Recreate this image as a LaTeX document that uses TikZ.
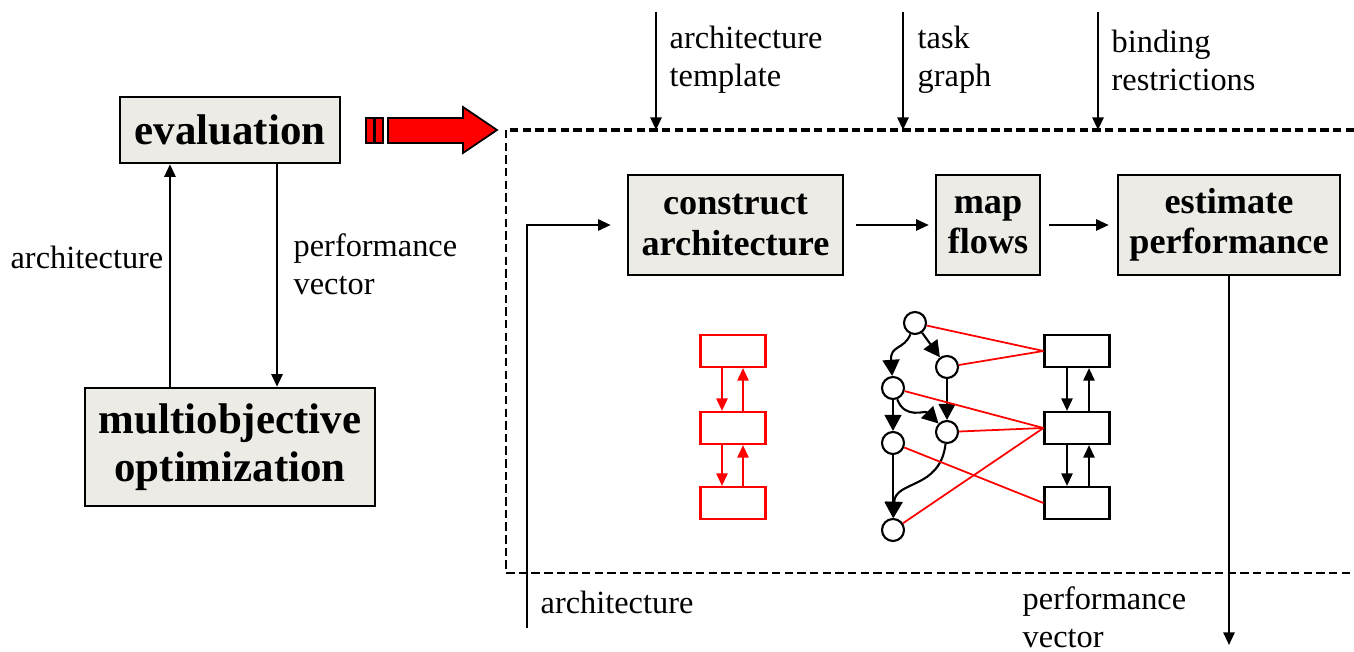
\documentclass[tikz,border=0pt]{standalone}
\usepackage{fontspec}
\setmainfont{Liberation Serif}
\usetikzlibrary{
  arrows.meta,
  positioning,
  calc,
}
\definecolor{boxgray}{HTML}{ECEBE6}
\definecolor{mapred}{HTML}{FF0000}

\begin{document}
\begin{tikzpicture}[
    x=0.01cm, y=-0.01cm,
    bigbox/.style={draw, line width=0.7pt, fill=boxgray, align=center, inner sep=0pt,
                   font=\fontsize{12.2}{13.8}\selectfont\bfseries},
    stepbox/.style={draw, line width=0.7pt, fill=boxgray, align=center, inner sep=0pt,
                    minimum height=1cm, font=\fontsize{10.3}{11.5}\selectfont\bfseries},
    unitbox/.style={draw, line width=0.6pt, minimum width=0.65cm, minimum height=0.32cm, inner sep=0pt},
    task/.style={circle, draw, line width=0.6pt, fill=white, minimum size=0.22cm, inner sep=0pt},
    lbl/.style={align=left, inner sep=0pt, font=\fontsize{9.2}{10.8}\selectfont},
    flow/.style={line width=0.6pt, -{Triangle[width=3.2pt, length=3.6pt]}},
    dep/.style={line width=0.6pt, -{Triangle[width=4.8pt, length=4.6pt]}},
  ]
  \useasboundingbox (0,0) rectangle (1354,652);

  % optimization loop
  \node[bigbox, minimum width=2.2cm, minimum height=0.66cm] (eval) at (230,130) {evaluation};
  \node[bigbox, minimum width=2.9cm, minimum height=1.18cm] (moo) at (230,447)
    {multiobjective\\optimization};
  \draw[flow] ([xshift=-0.6cm]moo.north) -- ([xshift=-0.6cm]eval.south);
  \draw[flow] ([xshift=0.47cm]eval.south) -- ([xshift=0.47cm]moo.north);
  \node[lbl, anchor=east] (larch) at (164,257) {architecture};
  \node[lbl, anchor=west] (lperf) at (293,264) {performance\\vector};

  % zoom arrow
  \draw[fill=mapred, line width=0.5pt] (388,118) -- (463,118) -- (463,107) -- (497,130)
    -- (463,153) -- (463,143) -- (388,143) -- cycle;
  \draw[fill=mapred, line width=0.6pt] (366,118) rectangle (383,143);
  \draw[line width=0.9pt] (374.5,118) -- (374.5,143);

  % evaluation frame
  \draw[line width=0.9pt, dash pattern=on 2.4pt off 1.2pt] (1354,130) -- (506,130);
  \draw[line width=0.5pt, dash pattern=on 2.4pt off 1.2pt] (506,130) -- (506,573) -- (1354,573);

  \coordinate (tin1) at (656,12);
  \coordinate (tin2) at (903,12);
  \coordinate (tin3) at (1098,12);
  \foreach \i in {1,2,3}
    \draw[flow] (tin\i) -- (tin\i |- 0,130);
  \node[lbl, anchor=west] (ltempl) at (669,60) {architecture\\template};
  \node[lbl, anchor=west] (ltask) at (917,60) {task\\graph};
  \node[lbl, anchor=west] (lbind) at (1111,60) {binding\\restrictions};

  \node[stepbox, minimum width=2.15cm] (construct) at (735.5,225) {construct\\architecture};
  \node[stepbox, minimum width=1.04cm] (mapf) at (988,225) {map\\flows};
  \node[stepbox, minimum width=2.22cm] (estim) at (1229,225) {estimate\\performance};
  \draw[flow, shorten <=0.12cm, shorten >=0.06cm] (construct) -- (mapf);
  \draw[flow, shorten <=0.08cm, shorten >=0.08cm] (mapf) -- (estim);

  \coordinate (archin) at (527,628);
  \draw[flow, shorten >=0.16cm] (archin) |- (construct);
  \node[lbl, anchor=west] (larchin) at (540,602) {architecture};
  \coordinate (perfout) at (1229,645);
  \draw[flow] (estim.south -| perfout) -- (perfout);
  \node[lbl, anchor=west] (lperfout) at (1022,617) {performance\\vector};

  % architecture template
  \foreach \i/\y in {1/351, 2/428, 3/503}
    \node[unitbox, draw=mapred] (r\i) at (733,\y) {};
  \foreach \a/\b in {1/2, 2/3} {
    \draw[flow, mapred] ([xshift=-0.11cm]r\a.south) -- ([xshift=-0.11cm]r\b.north);
    \draw[flow, mapred] ([xshift=0.1cm]r\b.north) -- ([xshift=0.1cm]r\a.south);
  }

  % task graph
  \node[task] (t1) at (915,323) {};
  \node[task] (t2) at (947,367) {};
  \node[task] (t3) at (893,388) {};
  \node[task] (t4) at (947,432) {};
  \node[task] (t5) at (893,443) {};
  \node[task] (t6) at (893,530) {};
  \draw[dep] (t1) -- (t2);
  \draw[dep] (t1) .. controls (904,350) and (890,345) .. (t3);
  \draw[dep] (t2) -- (t4);
  \draw[dep] (t3) .. controls (905,420) and (925,410) .. (t4);
  \draw[dep] (t3) -- (t5);
  \draw[dep] (t5) -- (t6);
  \draw[dep] (t4) .. controls (940,490) and (895,480) .. (t6);

  % allocated architecture
  \foreach \i/\y in {1/351, 2/428, 3/503}
    \node[unitbox] (h\i) at (1077,\y) {};
  \foreach \a/\b in {1/2, 2/3} {
    \draw[flow] ([xshift=-0.1cm]h\a.south) -- ([xshift=-0.1cm]h\b.north);
    \draw[flow] ([xshift=0.12cm]h\b.north) -- ([xshift=0.12cm]h\a.south);
  }

  % binding
  \foreach \t/\h in {t1/h1, t2/h1, t3/h2, t4/h2, t6/h2, t5/h3}
    \draw[mapred, line width=0.5pt] (\t) -- (\h.west);
\end{tikzpicture}
\end{document}
